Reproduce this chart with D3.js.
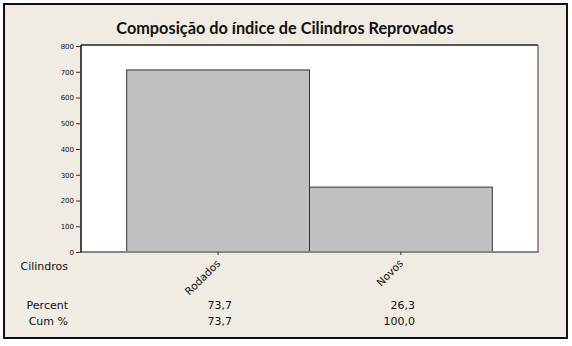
<!DOCTYPE html>
<html lang="pt">
<head>
    <meta charset="UTF-8">
    <title>Composição do índice de Cilindros Reprovados</title>
    <style>
        body { margin: 0; background: #fff; }
        svg { display: block; }
        .tick text { font-family: "DejaVu Sans", sans-serif; font-size: 7px; fill: #111; }
        .lbl { font-family: "DejaVu Sans", sans-serif; font-size: 11px; fill: #111; }
    </style>
    <script src="https://d3js.org/d3.v7.min.js"></script>
</head>
<body>
<svg id="chart" width="572" height="346"></svg>
<script>
    const title = "Composição do índice de Cilindros Reprovados";
    const categories = ["Rodados", "Novos"];
    const counts = [707, 252];
    const percent = ["73,7", "26,3"];
    const cumPercent = ["73,7", "100,0"];
    const yTicks = [0, 100, 200, 300, 400, 500, 600, 700, 800];

    const svg = d3.select("#chart");
    const plot = {left: 81, right: 538, top: 45, bottom: 252};

    // background panel
    svg.append("rect")
        .attr("x", 4).attr("y", 4)
        .attr("width", 563).attr("height", 334)
        .attr("fill", "#f0ece4")
        .attr("stroke", "#111")
        .attr("stroke-width", 2);

    svg.append("text")
        .attr("x", 285).attr("y", 34)
        .attr("text-anchor", "middle")
        .style("font-family", "Lato, sans-serif")
        .style("font-weight", "bold")
        .style("font-size", "16.3px")
        .attr("fill", "#111")
        .text(title);

    const x = d3.scaleBand()
        .domain(categories)
        .range([plot.left, plot.right])
        .paddingInner(0)
        .paddingOuter(0.25);

    const y = d3.scaleLinear()
        .domain([0, 800])
        .range([plot.bottom, plot.top + 1]);

    // plot area
    svg.append("rect")
        .attr("x", plot.left).attr("y", plot.top)
        .attr("width", plot.right - plot.left)
        .attr("height", plot.bottom - plot.top)
        .attr("fill", "#fff");

    svg.selectAll("rect.bar")
        .data(categories)
        .join("rect")
        .attr("class", "bar")
        .attr("x", d => x(d))
        .attr("y", (d, i) => y(counts[i]))
        .attr("width", x.bandwidth())
        .attr("height", (d, i) => y(0) - y(counts[i]))
        .attr("fill", "#c0c0c0")
        .attr("stroke", "#333")
        .attr("stroke-width", 1);

    // frame: dark top/left, grey right/bottom
    svg.append("line").attr("x1", plot.left).attr("x2", plot.right)
        .attr("y1", plot.top).attr("y2", plot.top)
        .attr("stroke", "#222").attr("stroke-width", 1.3);
    svg.append("line").attr("x1", plot.right).attr("x2", plot.right)
        .attr("y1", plot.top).attr("y2", plot.bottom)
        .attr("stroke", "#777").attr("stroke-width", 1.5);
    svg.append("line").attr("x1", plot.left).attr("x2", plot.right + 1)
        .attr("y1", plot.bottom).attr("y2", plot.bottom)
        .attr("stroke", "#888").attr("stroke-width", 2);

    const yAxis = svg.append("g")
        .attr("transform", `translate(${plot.left},0)`)
        .call(d3.axisLeft(y).tickValues(yTicks).tickSize(5).tickPadding(2));
    yAxis.select(".domain").attr("stroke", "#111").attr("stroke-width", 1.5)
        .attr("d", `M0,${plot.top}V${plot.bottom}`);
    yAxis.selectAll(".tick line").attr("stroke", "#333");

    const xAxis = svg.append("g")
        .attr("transform", `translate(0,${plot.bottom})`)
        .call(d3.axisBottom(x).tickSize(3).tickFormat(""));
    xAxis.select(".domain").remove();
    xAxis.selectAll(".tick line").attr("stroke", "#333");

    // rotated category labels
    svg.selectAll("text.cat")
        .data(categories)
        .join("text")
        .attr("class", "lbl cat")
        .attr("text-anchor", "end")
        .attr("transform", d => `translate(${x(d) + x.bandwidth() / 2 + 3},${plot.bottom + 12}) rotate(-45)`)
        .style("font-size", "10.5px")
        .text(d => d);

    svg.append("text").attr("class", "lbl")
        .attr("x", 68).attr("y", 270).attr("text-anchor", "end").text("Cilindros");
    svg.append("text").attr("class", "lbl")
        .attr("x", 68).attr("y", 309).attr("text-anchor", "end").text("Percent");
    svg.append("text").attr("class", "lbl")
        .attr("x", 68).attr("y", 325).attr("text-anchor", "end").text("Cum %");

    svg.selectAll("text.pct")
        .data(categories)
        .join("text")
        .attr("class", "lbl pct")
        .attr("text-anchor", "end")
        .attr("x", d => x(d) + x.bandwidth() / 2 + 14)
        .attr("y", 309)
        .text((d, i) => percent[i]);

    svg.selectAll("text.cum")
        .data(categories)
        .join("text")
        .attr("class", "lbl cum")
        .attr("text-anchor", "end")
        .attr("x", d => x(d) + x.bandwidth() / 2 + 14)
        .attr("y", 325)
        .text((d, i) => cumPercent[i]);
</script>
</body>
</html>
